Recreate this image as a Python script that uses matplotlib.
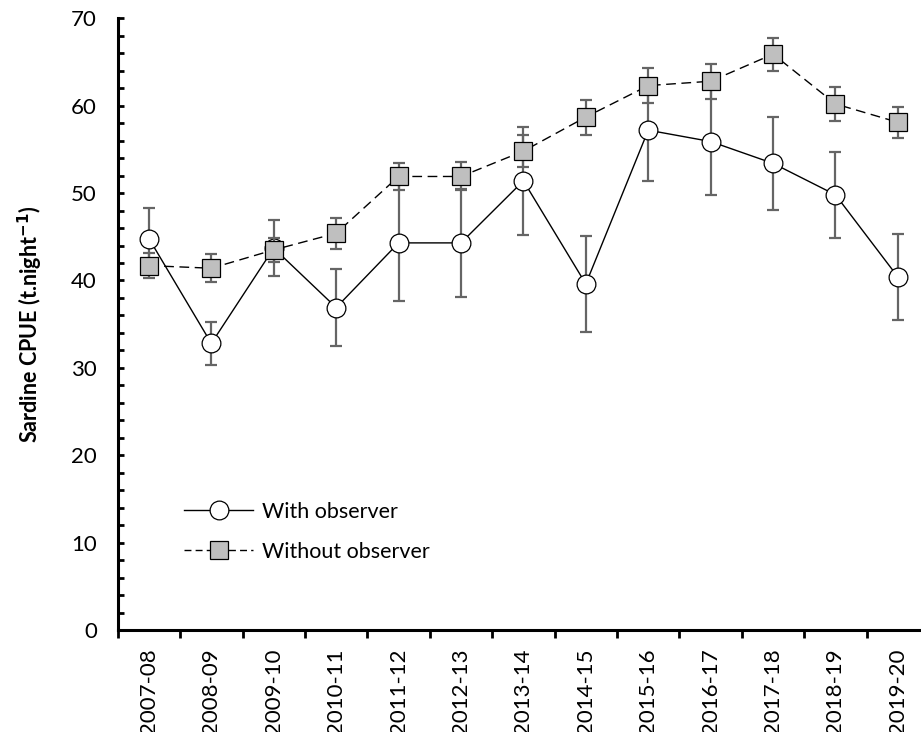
#!/usr/bin/env python3
"""Sardine CPUE by season, sets with and without an observer on board."""

import matplotlib

matplotlib.use("Agg")
import matplotlib.pyplot as plt
import numpy as np
from matplotlib.lines import Line2D
from matplotlib.ticker import FixedLocator, MultipleLocator

SEASONS = [
    "2007-08", "2008-09", "2009-10", "2010-11", "2011-12", "2012-13", "2013-14",
    "2014-15", "2015-16", "2016-17", "2017-18", "2018-19", "2019-20",
]
WITH_OBS = [44.8, 32.8, 43.7, 36.9, 44.3, 44.3, 51.4, 39.6, 57.2, 55.9, 53.4, 49.8, 40.4]
WITH_OBS_SE = [3.5, 2.5, 3.2, 4.4, 6.7, 6.2, 6.2, 5.5, 5.8, 6.1, 5.35, 4.9, 4.9]
WITHOUT_OBS = [41.7, 41.4, 43.5, 45.4, 51.9, 51.9, 54.8, 58.7, 62.3, 62.8, 65.9, 60.2, 58.1]
WITHOUT_OBS_SE = [1.4, 1.6, 1.35, 1.75, 1.5, 1.6, 1.8, 2.0, 2.0, 2.0, 1.9, 1.95, 1.8]

FONT = ["Lato", "DejaVu Sans"]
ERR_COLOR = "#656565"
SQUARE_FILL = "#bfbfbf"
TICK_SIZE = 16


def main() -> int:
    plt.rcParams["font.family"] = FONT
    x = np.arange(len(SEASONS))

    fig = plt.figure(figsize=(9.21, 7.32), dpi=100)
    ax = fig.add_axes([0.1278, 0.1393, 0.8722, 0.8357])

    # with observer: solid line, open circles
    ax.errorbar(x, WITH_OBS, yerr=WITH_OBS_SE, fmt="none", ecolor=ERR_COLOR,
                elinewidth=1.6, capsize=4.5, capthick=1.6, zorder=2)
    ax.plot(x, WITH_OBS, color="black", linewidth=1.0, marker="o", markersize=13.5,
            markerfacecolor="white", markeredgecolor="black", markeredgewidth=0.9, zorder=3)

    # without observer: dashed line, grey squares (drawn on top)
    ax.errorbar(x, WITHOUT_OBS, yerr=WITHOUT_OBS_SE, fmt="none", ecolor=ERR_COLOR,
                elinewidth=1.6, capsize=4.5, capthick=1.6, zorder=4)
    ax.plot(x, WITHOUT_OBS, color="black", linewidth=1.0, linestyle=(0, (7, 4)),
            marker="s", markersize=13, markerfacecolor=SQUARE_FILL,
            markeredgecolor="black", markeredgewidth=0.9, zorder=5)

    ax.set_xlim(-0.5, 12.37)
    ax.set_ylim(0, 70)

    for side in ("top", "right"):
        ax.spines[side].set_visible(False)
    for side in ("left", "bottom"):
        ax.spines[side].set_linewidth(2.2)

    ax.yaxis.set_major_locator(MultipleLocator(10))
    ax.yaxis.set_minor_locator(MultipleLocator(2))
    ax.tick_params(axis="y", which="both", direction="in", length=4.5, width=2.0,
                   labelsize=TICK_SIZE, pad=15)

    # labels at category centres, ticks at category boundaries
    ax.set_xticks(x)
    ax.set_xticklabels(SEASONS, rotation=90)
    ax.xaxis.set_minor_locator(FixedLocator(np.arange(-0.5, len(SEASONS), 1.0)))
    ax.tick_params(axis="x", which="major", length=0, labelsize=TICK_SIZE, pad=13)
    ax.tick_params(axis="x", which="minor", direction="out", length=6, width=2.0)

    ax.set_ylabel("Sardine CPUE (t.night$^{\\mathbf{-1}}$)", fontsize=15.5,
                  fontweight="bold", labelpad=19)

    handles = [
        Line2D([], [], color="black", linewidth=1.0, marker="o", markersize=13.5,
               markerfacecolor="white", markeredgecolor="black", markeredgewidth=0.9),
        Line2D([], [], color="black", linewidth=1.0, linestyle=(0, (5, 3)), marker="s",
               markersize=13, markerfacecolor=SQUARE_FILL, markeredgecolor="black",
               markeredgewidth=0.9),
    ]
    ax.legend(handles, ["With observer", "Without observer"], loc="upper left",
              bbox_to_anchor=(0.083, 0.21), frameon=False, fontsize=15.5,
              handlelength=3.2, handletextpad=0.42, labelspacing=0.95,
              borderpad=0, borderaxespad=0)

    fig.savefig("out.png", dpi=100)
    plt.close(fig)
    return 0


if __name__ == "__main__":
    raise SystemExit(main())
